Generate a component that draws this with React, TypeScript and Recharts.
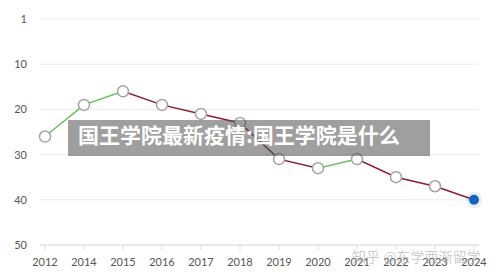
import React from "react";
import { LineChart, Line, XAxis, YAxis, CartesianGrid } from "recharts";

const years = ["2012", "2014", "2015", "2016", "2017", "2018", "2019", "2020", "2021", "2022", "2023", "2024"];
const ranks = [26, 19, 16, 19, 21, 23, 31, 33, 31, 35, 37, 40];
const yTicks = [0, 10, 20, 30, 40, 50];
const yTickLabels = ["1", "10", "20", "30", "40", "50"];

const bannerText = "国王学院最新疫情:国王学院是什么";
const watermark = "知乎 @东学西渐留学";

const UP = "#6abf5e";
const DOWN = "#8c1c2e";

const data = years.map((year, i) => ({ year, rank: ranks[i] }));

function RankDot(props: any) {
  const { cx, cy, index } = props;
  if (cx == null || cy == null) return null;
  if (index === data.length - 1) {
    return (
      <g>
        <circle cx={cx} cy={cy} r={8} fill="#1565c0" opacity={0.1} />
        <circle cx={cx} cy={cy} r={5} fill="#1565c0" />
      </g>
    );
  }
  return <circle cx={cx} cy={cy} r={5.5} fill="#fff" stroke="#a3a3a3" strokeWidth={1.5} />;
}

export default function App() {
  const n = data.length;
  // segment colour: green when the rank improves, dark red when it drops
  const stops: React.ReactNode[] = [];
  for (let i = 0; i < n - 1; i++) {
    const color = ranks[i + 1] < ranks[i] ? UP : DOWN;
    stops.push(<stop key={`a${i}`} offset={i / (n - 1)} stopColor={color} />);
    stops.push(<stop key={`b${i}`} offset={(i + 1) / (n - 1)} stopColor={color} />);
  }

  return (
    <div style={{ position: "absolute", left: 0, top: 0, width: 500, height: 278, background: "#fff" }}>
      <LineChart
        width={500}
        height={278}
        data={data}
        margin={{ top: 19, right: 21, left: 0, bottom: 0 }}
      >
        <defs>
          <linearGradient id="segColors" x1="0" y1="0" x2="1" y2="0">
            {stops}
          </linearGradient>
        </defs>
        <CartesianGrid vertical={false} stroke="#ececec" />
        <XAxis
          dataKey="year"
          height={33}
          padding={{ left: 5, right: 5 }}
          axisLine={{ stroke: "#dcdcdc" }}
          tickLine={{ stroke: "#dcdcdc" }}
          tickSize={5}
          tickMargin={8}
          tick={{ fontSize: 11, fill: "#555", fontFamily: "Lato, 'Open Sans', sans-serif" }}
        />
        <YAxis
          reversed
          domain={[0, 50]}
          ticks={yTicks}
          width={40}
          axisLine={false}
          tickLine={false}
          tickMargin={7}
          tickFormatter={(v: number) => yTickLabels[yTicks.indexOf(v)] ?? String(v)}
          tick={{ fontSize: 11, fill: "#555", fontFamily: "Lato, 'Open Sans', sans-serif" }}
        />
        <Line
          type="linear"
          dataKey="rank"
          stroke="url(#segColors)"
          strokeWidth={1.5}
          dot={<RankDot />}
          activeDot={false}
          isAnimationActive={false}
        />
      </LineChart>
      <svg
        width={500}
        height={278}
        style={{ position: "absolute", left: 0, top: 0, pointerEvents: "none" }}
      >
        <rect x={68} y={120} width={362} height={36} fill="rgba(80,80,80,0.55)" />
        <text
          x={78}
          y={143}
          fill="#fff"
          fontSize={21}
          fontWeight="bold"
          fontFamily="'Noto Sans CJK SC', sans-serif"
        >
          {bannerText}
        </text>
        <text
          x={352}
          y={262}
          fill="rgba(160,160,160,0.55)"
          fontSize={14}
          fontFamily="'Noto Sans CJK SC', sans-serif"
        >
          {watermark}
        </text>
      </svg>
    </div>
  );
}
